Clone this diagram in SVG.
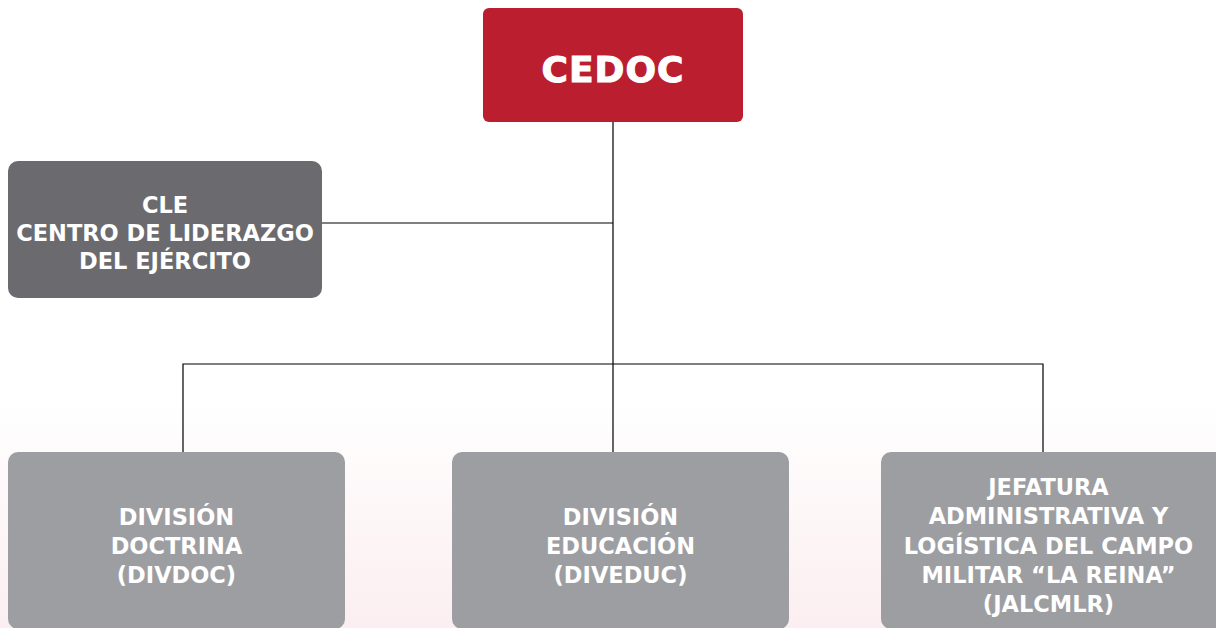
<svg xmlns="http://www.w3.org/2000/svg" width="1216" height="628" viewBox="0 0 1216 628">
<defs>
<linearGradient id="bg" x1="0" y1="0" x2="0" y2="1">
<stop offset="0" stop-color="#ffffff"/>
<stop offset="1" stop-color="#fbeef0"/>
</linearGradient>
</defs>
<style>
.t{font-family:"DejaVu Sans","Liberation Sans",sans-serif;font-weight:bold;fill:#ffffff;text-anchor:middle}
.b{font-size:22.5px}
.c{stroke:#000000;stroke-width:1.2;fill:none}
</style>
<rect x="0" y="0" width="1216" height="628" fill="#ffffff"/>
<rect x="0" y="400" width="1216" height="228" fill="url(#bg)"/>
<g id="connectors">
<path class="c" d="M613 122V364M322 223H613M183 452V364H1043V452M613 364V452"/>
</g>
<g id="cedoc">
<rect x="483" y="8" width="260" height="114" rx="6" fill="#bb1f2f"/>
<text class="t" x="613" y="82" font-size="36" letter-spacing="1" stroke="#ffffff" stroke-width="1">CEDOC</text>
</g>
<g id="cle">
<rect x="8" y="161" width="314" height="137" rx="10" fill="#6b6b6f"/>
<text class="t b" x="165" y="213">CLE</text>
<text class="t b" x="165" y="241">CENTRO DE LIDERAZGO</text>
<text class="t b" x="165" y="269">DEL EJÉRCITO</text>
</g>
<g id="divdoc">
<rect x="8" y="452" width="337" height="177" rx="10" fill="#9d9ea2"/>
<text class="t b" x="176.5" y="525">DIVISIÓN</text>
<text class="t b" x="176.5" y="554">DOCTRINA</text>
<text class="t b" x="176.5" y="583">(DIVDOC)</text>
</g>
<g id="diveduc">
<rect x="452" y="452" width="337" height="177" rx="10" fill="#9d9ea2"/>
<text class="t b" x="620.5" y="525">DIVISIÓN</text>
<text class="t b" x="620.5" y="554">EDUCACIÓN</text>
<text class="t b" x="620.5" y="583">(DIVEDUC)</text>
</g>
<g id="jalcmlr">
<rect x="881" y="452" width="345" height="177" rx="10" fill="#9d9ea2"/>
<text class="t b" x="1048.5" y="495">JEFATURA</text>
<text class="t b" x="1048.5" y="524">ADMINISTRATIVA Y</text>
<text class="t b" x="1048.5" y="554">LOGÍSTICA DEL CAMPO</text>
<text class="t b" x="1048.5" y="583">MILITAR “LA REINA”</text>
<text class="t b" x="1048.5" y="612">(JALCMLR)</text>
</g>
</svg>
